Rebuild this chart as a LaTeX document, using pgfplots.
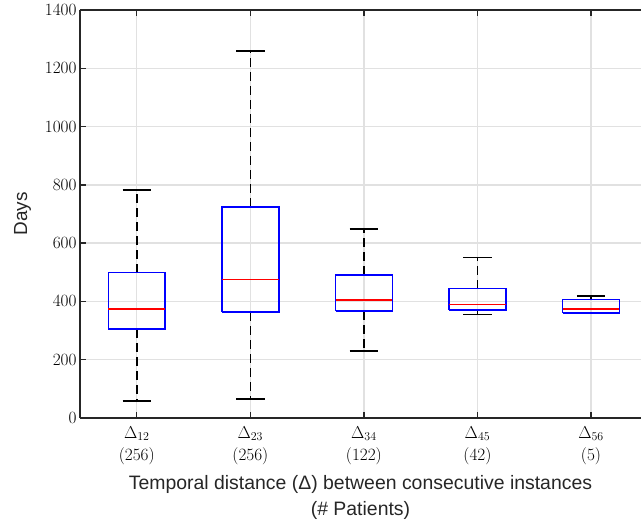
\documentclass[border=0pt]{standalone}
\usepackage{pgfplots}
\pgfplotsset{compat=1.18}
\usepackage{fontspec}
\setmainfont{Liberation Sans}
\definecolor{axgray}{RGB}{38,38,38}
\definecolor{gridgray}{RGB}{225,225,225}
\begin{document}
\begin{tikzpicture}
\begin{axis}[
  name=ax,
  at={(0,0)}, anchor=south west,
  scale only axis,
  width=561bp, height=408bp,
  xmin=0.5, xmax=5.44,
  ymin=0, ymax=1400,
  axis x line*=box,
  axis y line*=left,
  axis line style={-, axgray, line width=1.3bp},
  xtick={1,2,3,4,5},
  xtick pos=both,
  ytick={0,200,400,600,800,1000,1200,1400},
  ytick pos=left,
  /pgf/number format/1000 sep={},
  tick align=inside,
  major tick length=6bp,
  tick style={axgray, line width=1.3bp},
  xticklabels={{$\Delta_{12}$\\$(256)$},{$\Delta_{23}$\\$(256)$},{$\Delta_{34}$\\$(122)$},{$\Delta_{45}$\\$(42)$},{$\Delta_{56}$\\$(5)$}},
  xticklabel style={align=center, font=\fontsize{17.5}{22}\selectfont, yshift=-5bp},
  yticklabel style={font=\fontsize{17.5}{20}\selectfont},
  grid=major,
  major grid style={gridgray, line width=1.3bp},
  xlabel={Temporal distance (Δ) between consecutive instances\\(\# Patients)},
  xlabel style={align=center, font=\fontsize{19.5}{26}\selectfont, text=axgray, yshift=-4bp},
  ylabel={Days},
  ylabel style={font=\fontsize{19}{22}\selectfont, text=axgray, yshift=7bp},
  whisk/.style={black, line width=1.6bp, dash pattern=on 9bp off 5bp},
  cap/.style={black, line width=1.6bp},
  bx/.style={blue, line width=1.6bp},
  med/.style={red, line width=1.6bp},
]
% Box 1
\addplot[whisk] coordinates {(1,306) (1,59)};
\addplot[whisk] coordinates {(1,499) (1,783)};
\addplot[cap] coordinates {(0.875,59) (1.125,59)};
\addplot[cap] coordinates {(0.875,783) (1.125,783)};
\addplot[bx] coordinates {(0.75,306) (1.25,306) (1.25,499) (0.75,499) (0.75,306)};
\addplot[med] coordinates {(0.75,375) (1.25,375)};
% Box 2
\addplot[whisk] coordinates {(2,363) (2,66)};
\addplot[whisk] coordinates {(2,725) (2,1260)};
\addplot[cap] coordinates {(1.875,66) (2.125,66)};
\addplot[cap] coordinates {(1.875,1260) (2.125,1260)};
\addplot[bx] coordinates {(1.75,363) (2.25,363) (2.25,725) (1.75,725) (1.75,363)};
\addplot[med] coordinates {(1.75,475) (2.25,475)};
% Box 3
\addplot[whisk] coordinates {(3,368) (3,230)};
\addplot[whisk] coordinates {(3,491) (3,649)};
\addplot[cap] coordinates {(2.875,230) (3.125,230)};
\addplot[cap] coordinates {(2.875,649) (3.125,649)};
\addplot[bx] coordinates {(2.75,368) (3.25,368) (3.25,491) (2.75,491) (2.75,368)};
\addplot[med] coordinates {(2.75,404) (3.25,404)};
% Box 4
\addplot[whisk] coordinates {(4,370) (4,355)};
\addplot[whisk] coordinates {(4,444) (4,551)};
\addplot[cap] coordinates {(3.875,355) (4.125,355)};
\addplot[cap] coordinates {(3.875,551) (4.125,551)};
\addplot[bx] coordinates {(3.75,370) (4.25,370) (4.25,444) (3.75,444) (3.75,370)};
\addplot[med] coordinates {(3.75,389) (4.25,389)};
% Box 5
\addplot[whisk] coordinates {(5,406) (5,419)};
\addplot[cap] coordinates {(4.875,359) (5.125,359)};
\addplot[cap] coordinates {(4.875,419) (5.125,419)};
\addplot[bx] coordinates {(4.75,361) (5.25,361) (5.25,406) (4.75,406) (4.75,361)};
\addplot[med] coordinates {(4.75,374) (5.25,374)};
\end{axis}
\pgfresetboundingbox
\useasboundingbox (-80bp,-107bp) rectangle (561bp,418bp);
\end{tikzpicture}
\end{document}
